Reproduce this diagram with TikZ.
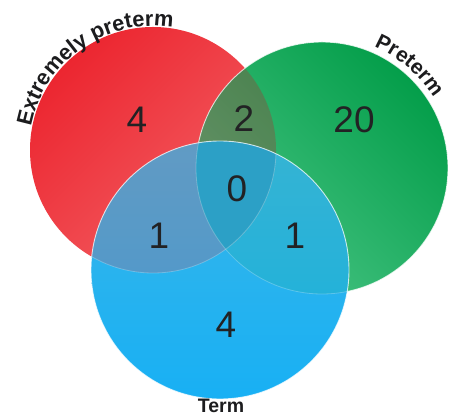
\documentclass[tikz,border=0pt]{standalone}
\usepackage{fontspec}
\setmainfont{Liberation Sans}
\usetikzlibrary{decorations.text}
\definecolor{redA}{RGB}{236,38,48}
\definecolor{redB}{RGB}{243,98,102}
\definecolor{greenA}{RGB}{4,158,74}
\definecolor{greenB}{RGB}{72,196,132}
\definecolor{blueA}{RGB}{58,182,232}
\definecolor{blueB}{RGB}{24,176,244}
\definecolor{tripc}{RGB}{44,160,198}
\definecolor{numc}{RGB}{34,34,36}
\definecolor{labc}{RGB}{28,28,30}
\begin{document}
\begin{tikzpicture}[x=1pt,y=1pt,
  num/.style={font=\fontsize{37}{37}\selectfont, text=numc, inner sep=0pt},
  lab/.style={font=\fontsize{19.5}{20}\selectfont\bfseries, text=labc, inner sep=0pt},
  rim/.style={draw=white, draw opacity=0.75, line width=0.9pt},
  faintrim/.style={draw=white, draw opacity=0.25, line width=0.8pt}]
\useasboundingbox (0,0) rectangle (449,417);
\coordinate (cr) at (153,267);
\coordinate (cg) at (322,249);
\coordinate (cb) at (220,147);
% red
\shade[top color=redA, bottom color=redB, shading angle=45] (cr) circle[radius=123];
% green
\shade[top color=greenA, bottom color=greenB, shading angle=-45] (cg) circle[radius=126];
\begin{scope}
  \clip (cg) circle[radius=126];
  \fill[redA!70!redB, fill opacity=0.25] (cr) circle[radius=123];
  \fill[black, fill opacity=0.08] (cr) circle[radius=123];
\end{scope}
\draw[rim] (cg) circle[radius=126];
% blue
\shade[top color=blueA, bottom color=blueB] (cb) circle[radius=129];
\begin{scope}
  \clip (cb) circle[radius=129];
  \fill[redA!60!redB, fill opacity=0.22] (cr) circle[radius=123];
  \fill[greenA!60!greenB, fill opacity=0.15] (cg) circle[radius=126];
  \begin{scope}
    \clip (cr) circle[radius=123];
    \fill[tripc] (cg) circle[radius=126];
  \end{scope}
  \draw[faintrim] (cr) circle[radius=123];
  \draw[faintrim] (cg) circle[radius=126];
\end{scope}
\draw[rim] (cb) circle[radius=129];
% numbers
\node[num] (nR) at (137,297) {4};
\node[num] (nRG) at (244,298) {2};
\node[num] (nG) at (354,297) {20};
\node[num] (nC) at (237,228) {0};
\node[num] (nRB) at (159,181) {1};
\node[num] (nGB) at (295,181) {1};
\node[num] (nB) at (226,92) {4};
% labels
\node[lab] (lT) at (221,11) {Term};
\path[decorate, decoration={text along path, text align=center,
   text={|\fontsize{21.8}{22}\selectfont\bfseries\color{labc}|Extremely preterm}}]
   (cr) ++(176:124) arc[start angle=176, end angle=74, radius=124];
\path[decorate, decoration={text along path, text align=center,
   text={|\fontsize{21}{21}\selectfont\bfseries\color{labc}|Preterm}}]
   (cg) ++(85:132) arc[start angle=85, end angle=14, radius=132];
\end{tikzpicture}
\end{document}
